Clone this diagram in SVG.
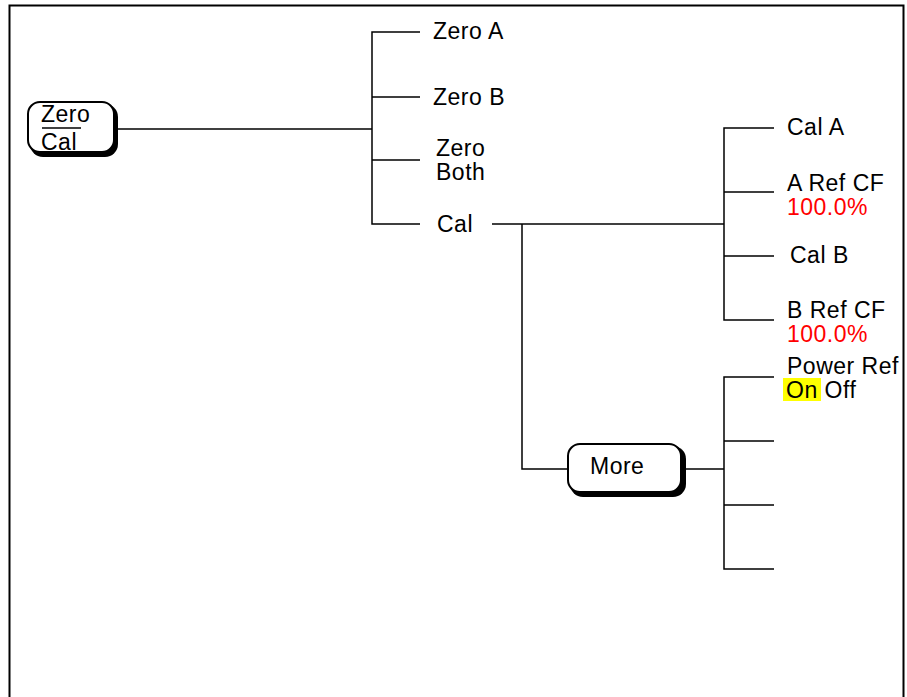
<svg xmlns="http://www.w3.org/2000/svg" width="907" height="697" viewBox="0 0 907 697">
<style>
.t{font-family:"Liberation Sans",Arial,sans-serif;font-size:23px;letter-spacing:0.5px;fill:#000}
.r{fill:#f00}
.c{stroke:#000;stroke-width:1.5;fill:none}
.bs{fill:#000}
.bf{fill:#fff;stroke:#000;stroke-width:2}
</style>
<rect x="0" y="0" width="907" height="697" fill="#fff"/>
<path d="M9.5 700 V5.5 H903.5 V700" fill="none" stroke="#000" stroke-width="2"/>
<g id="connectors" class="c">
<path d="M118 129 H372"/>
<path d="M420 32 H372 V224 H420"/>
<path d="M372 97 H420 M372 160 H420"/>
<path d="M492 224 H724"/>
<path d="M522 224 V469 H568"/>
<path d="M686 469 H724"/>
<path d="M774 128 H724 V320 H774"/>
<path d="M724 192 H774 M724 256 H774"/>
<path d="M774 377 H724 V569 H774"/>
<path d="M724 441 H774 M724 505 H774"/>
</g>
<g id="zero-cal">
<rect class="bs" x="30" y="104" width="88" height="53" rx="13"/>
<rect class="bf" x="28" y="102" width="86" height="50" rx="12"/>
<text class="t" x="41" y="122">Zero</text>
<path d="M42 128 H81" stroke="#000" stroke-width="1.5"/>
<text class="t" x="41" y="150">Cal</text>
</g>
<g id="more">
<rect class="bs" x="570" y="446" width="116" height="51" rx="13"/>
<rect class="bf" x="568" y="444" width="113" height="48" rx="12"/>
<text class="t" x="590" y="474">More</text>
</g>
<g id="zero-a"><text class="t" x="433" y="39">Zero A</text></g>
<g id="zero-b"><text class="t" x="433" y="105">Zero B</text></g>
<g id="zero-both"><text class="t" x="436" y="156">Zero</text><text class="t" x="436" y="180">Both</text></g>
<g id="cal"><text class="t" x="437" y="232">Cal</text></g>
<g id="cal-a"><text class="t" x="787" y="135">Cal A</text></g>
<g id="a-ref-cf"><text class="t" x="787" y="191">A Ref CF</text><text class="t r" x="787" y="215">100.0%</text></g>
<g id="cal-b"><text class="t" x="790" y="263">Cal B</text></g>
<g id="b-ref-cf"><text class="t" x="787" y="318">B Ref CF</text><text class="t r" x="787" y="342">100.0%</text></g>
<g id="power-ref">
<rect x="783" y="378" width="38" height="23" fill="#ff0"/>
<text class="t" x="787" y="374">Power Ref</text>
<text class="t" x="786" y="398">On Off</text>
</g>
</svg>
